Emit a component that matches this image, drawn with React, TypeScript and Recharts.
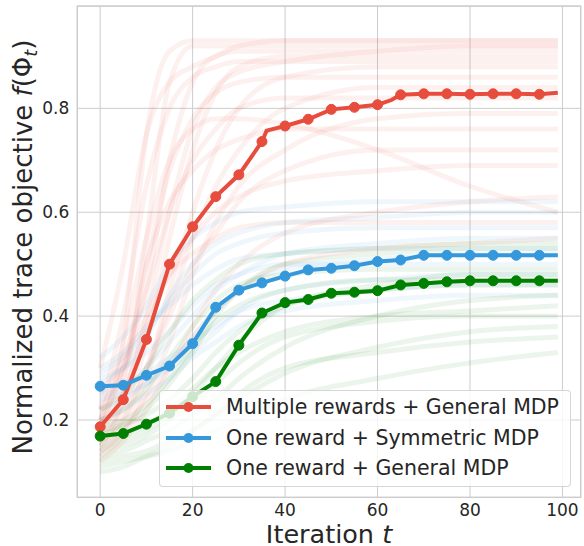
import {
  LineChart,
  Line,
  XAxis,
  YAxis,
  CartesianGrid,
  Legend,
  Label,
  ReferenceArea,
} from 'recharts'

const FONT = '"DejaVu Sans", sans-serif'
const TEXT = '#262626'
const GRID = '#cccccc'

const RED = '#e74c3c'
const BLUE = '#3498db'
const GREEN = '#008000'

// mean curves (markers every 5 iterations)
const redT = [0, 5, 10, 15, 20, 25, 30, 35, 36, 40, 45, 50, 55, 60, 63, 65, 70, 75, 80, 85, 90, 95, 99]
const redV = [0.187, 0.239, 0.355, 0.5, 0.572, 0.63, 0.672, 0.736, 0.757, 0.766, 0.779, 0.798, 0.802, 0.807, 0.816, 0.826, 0.828, 0.828, 0.827, 0.828, 0.828, 0.827, 0.83]

const blueT = [0, 5, 10, 15, 20, 25, 30, 35, 40, 45, 50, 55, 60, 65, 70, 75, 80, 85, 90, 95, 99]
const blueV = [0.265, 0.267, 0.286, 0.304, 0.347, 0.417, 0.45, 0.464, 0.477, 0.489, 0.492, 0.497, 0.505, 0.508, 0.517, 0.517, 0.517, 0.517, 0.517, 0.517, 0.517]

const greenT = [0, 5, 10, 15, 20, 25, 30, 35, 40, 45, 50, 55, 60, 65, 70, 75, 80, 85, 90, 95, 99]
const greenV = [0.169, 0.174, 0.192, 0.213, 0.245, 0.274, 0.344, 0.406, 0.426, 0.432, 0.444, 0.446, 0.449, 0.46, 0.463, 0.466, 0.468, 0.468, 0.468, 0.468, 0.468]

// individual runs, faint in the background
const traceT = [0, 5, 10, 15, 20, 25, 30, 40, 60, 80, 99]

const redTraces = [
  [0.18, 0.35, 0.75, 0.91, 0.93, 0.93, 0.93, 0.93, 0.93, 0.93, 0.93],
  [0.15, 0.25, 0.55, 0.85, 0.92, 0.92, 0.92, 0.92, 0.92, 0.92, 0.92],
  [0.2, 0.3, 0.45, 0.7, 0.85, 0.9, 0.91, 0.91, 0.91, 0.91, 0.91],
  [0.17, 0.22, 0.35, 0.55, 0.72, 0.83, 0.88, 0.9, 0.9, 0.9, 0.9],
  [0.22, 0.4, 0.65, 0.8, 0.86, 0.88, 0.89, 0.89, 0.89, 0.89, 0.89],
  [0.14, 0.18, 0.28, 0.45, 0.6, 0.72, 0.8, 0.86, 0.88, 0.88, 0.88],
  [0.19, 0.28, 0.5, 0.68, 0.78, 0.83, 0.85, 0.86, 0.86, 0.86, 0.86],
  [0.16, 0.2, 0.3, 0.42, 0.55, 0.65, 0.72, 0.8, 0.84, 0.84, 0.84],
  [0.25, 0.32, 0.45, 0.6, 0.7, 0.76, 0.8, 0.82, 0.82, 0.82, 0.82],
  [0.13, 0.17, 0.25, 0.35, 0.48, 0.58, 0.65, 0.72, 0.78, 0.79, 0.79],
  [0.2, 0.3, 0.5, 0.62, 0.68, 0.72, 0.74, 0.76, 0.76, 0.76, 0.76],
  [0.15, 0.2, 0.3, 0.4, 0.5, 0.56, 0.62, 0.68, 0.72, 0.72, 0.72],
  [0.18, 0.25, 0.38, 0.48, 0.55, 0.6, 0.63, 0.66, 0.68, 0.69, 0.69],
  [0.12, 0.16, 0.22, 0.3, 0.38, 0.45, 0.5, 0.56, 0.6, 0.62, 0.63],
  [0.22, 0.3, 0.4, 0.48, 0.52, 0.55, 0.57, 0.58, 0.58, 0.58, 0.58],
  [0.14, 0.18, 0.24, 0.3, 0.36, 0.41, 0.45, 0.5, 0.53, 0.54, 0.55],
  [0.3, 0.5, 0.75, 0.85, 0.88, 0.9, 0.92, 0.93, 0.93, 0.93, 0.93],
  [0.17, 0.24, 0.4, 0.6, 0.76, 0.84, 0.87, 0.89, 0.91, 0.92, 0.92],
  [0.2, 0.35, 0.55, 0.7, 0.76, 0.78, 0.78, 0.77, 0.72, 0.65, 0.6],
]

const blueTraces = [
  [0.27, 0.3, 0.36, 0.44, 0.5, 0.54, 0.56, 0.58, 0.59, 0.6, 0.6],
  [0.25, 0.26, 0.3, 0.35, 0.4, 0.45, 0.48, 0.52, 0.54, 0.55, 0.55],
  [0.3, 0.33, 0.38, 0.42, 0.46, 0.49, 0.51, 0.52, 0.53, 0.53, 0.53],
  [0.22, 0.24, 0.27, 0.31, 0.36, 0.41, 0.45, 0.49, 0.51, 0.52, 0.52],
  [0.28, 0.3, 0.33, 0.37, 0.42, 0.46, 0.48, 0.5, 0.5, 0.5, 0.5],
  [0.24, 0.25, 0.27, 0.3, 0.33, 0.37, 0.41, 0.45, 0.47, 0.48, 0.48],
  [0.32, 0.36, 0.42, 0.5, 0.55, 0.58, 0.6, 0.61, 0.62, 0.62, 0.62],
  [0.26, 0.27, 0.29, 0.32, 0.35, 0.38, 0.41, 0.43, 0.45, 0.46, 0.46],
  [0.2, 0.22, 0.25, 0.28, 0.32, 0.35, 0.38, 0.41, 0.43, 0.44, 0.44],
  [0.29, 0.32, 0.37, 0.43, 0.48, 0.52, 0.54, 0.56, 0.57, 0.57, 0.57],
]

const greenTraces = [
  [0.17, 0.19, 0.22, 0.27, 0.33, 0.4, 0.45, 0.5, 0.52, 0.53, 0.53],
  [0.15, 0.16, 0.18, 0.21, 0.25, 0.3, 0.35, 0.42, 0.46, 0.48, 0.48],
  [0.2, 0.22, 0.26, 0.32, 0.38, 0.43, 0.46, 0.48, 0.49, 0.49, 0.49],
  [0.13, 0.14, 0.16, 0.18, 0.21, 0.24, 0.28, 0.34, 0.4, 0.43, 0.44],
  [0.18, 0.19, 0.21, 0.24, 0.28, 0.33, 0.37, 0.42, 0.45, 0.46, 0.46],
  [0.12, 0.13, 0.14, 0.16, 0.18, 0.21, 0.24, 0.29, 0.34, 0.37, 0.38],
  [0.22, 0.25, 0.3, 0.37, 0.43, 0.47, 0.5, 0.52, 0.53, 0.54, 0.54],
  [0.16, 0.17, 0.19, 0.22, 0.26, 0.3, 0.33, 0.37, 0.4, 0.41, 0.42],
  [0.1, 0.11, 0.13, 0.15, 0.18, 0.21, 0.25, 0.3, 0.33, 0.35, 0.36],
  [0.19, 0.2, 0.23, 0.28, 0.34, 0.39, 0.42, 0.45, 0.47, 0.47, 0.47],
  [0.14, 0.15, 0.17, 0.2, 0.23, 0.27, 0.31, 0.36, 0.39, 0.4, 0.4],
  [0.11, 0.12, 0.13, 0.14, 0.16, 0.18, 0.2, 0.24, 0.28, 0.31, 0.33],
]

const xTicks = [0, 20, 40, 60, 80, 100]
const yTicks = [0.2, 0.4, 0.6, 0.8]

const series = [
  { name: 'Multiple rewards + General MDP', color: RED, t: redT, v: redV },
  { name: 'One reward + Symmetric MDP', color: BLUE, t: blueT, v: blueV },
  { name: 'One reward + General MDP', color: GREEN, t: greenT, v: greenV },
]

const toRows = (ts: number[], vs: number[]) => ts.map((t, i) => ({ t, v: vs[i] }))

const traceGroups = [
  { color: RED, rows: redTraces },
  { color: BLUE, rows: blueTraces },
  { color: GREEN, rows: greenTraces },
]

function markerDot(color: string) {
  return (props: any) => {
    const { cx, cy, payload, index } = props
    if (payload.t % 5 !== 0 || payload.t > 95) return <g key={`d${index}`} />
    return <circle key={`d${index}`} cx={cx} cy={cy} r={5} fill={color} stroke={color} />
  }
}

function LegendBox() {
  return (
    <div
      style={{
        position: 'relative',
        width: 412,
        height: 97,
        boxSizing: 'border-box',
        border: '1px solid rgba(204,204,204,0.8)',
        borderRadius: 4,
        background: 'rgba(255,255,255,0.8)',
        fontFamily: FONT,
        fontSize: 20.5,
        color: TEXT,
      }}
    >
      {series.map((s, i) => (
        <div key={s.name} style={{ position: 'absolute', left: 0, top: 16 + i * 30.6 - 15, height: 30, width: 410 }}>
          <svg width={50} height={30} style={{ position: 'absolute', left: 5, top: 0 }}>
            <line x1={1} y1={15} x2={46} y2={15} stroke={s.color} strokeWidth={4} />
            <circle cx={23.5} cy={15} r={5} fill={s.color} />
          </svg>
          <span style={{ position: 'absolute', left: 66, top: 0, lineHeight: '30px', whiteSpace: 'nowrap' }}>{s.name}</span>
        </div>
      ))}
    </div>
  )
}

export default function App() {
  return (
    <div style={{ position: 'absolute', left: 0, top: 0, width: 584, height: 546, background: '#fff' }}>
      <LineChart width={584} height={546} margin={{ top: 6, right: 3.3, bottom: 0, left: 7 }}>
        <CartesianGrid stroke={GRID} strokeWidth={1} />
        <XAxis
          type="number"
          dataKey="t"
          domain={[-4.95, 103.95]}
          ticks={xTicks}
          allowDataOverflow
          axisLine={false}
          tickLine={false}
          tickMargin={1}
          height={48.7}
          tick={{ fill: TEXT, fontSize: 17, fontFamily: FONT }}
        >
          <Label
            content={() => (
              <text x={329} y={542.5} textAnchor="middle" fill={TEXT} fontSize={25.5} fontFamily={FONT}>
                Iteration <tspan fontStyle="italic">t</tspan>
              </text>
            )}
          />
        </XAxis>
        <YAxis
          type="number"
          dataKey="v"
          domain={[0.0512, 0.997]}
          ticks={yTicks}
          allowDataOverflow
          axisLine={false}
          tickLine={false}
          width={70.3}
          tickFormatter={(v: number) => v.toFixed(1)}
          tick={{ fill: TEXT, fontSize: 17, fontFamily: FONT }}
        >
          <Label
            content={() => (
              <text
                x={32}
                y={247}
                transform="rotate(-90, 32, 247)"
                textAnchor="middle"
                fill={TEXT}
                fontSize={26}
                fontFamily={FONT}
              >
                Normalized trace objective <tspan fontStyle="italic">f</tspan>(Φ
                <tspan fontStyle="italic" fontSize={18} dy={5}>t</tspan>
                <tspan dy={-5}>)</tspan>
              </text>
            )}
          />
        </YAxis>
        {traceGroups.map((g, gi) =>
          g.rows.map((vals, i) => (
            <Line
              key={`tr${gi}-${i}`}
              data={toRows(traceT, vals)}
              dataKey="v"
              type="monotone"
              stroke={g.color}
              strokeOpacity={0.08}
              strokeWidth={5}
              dot={false}
              activeDot={false}
              legendType="none"
              isAnimationActive={false}
            />
          ))
        )}
        {series.map((s) => (
          <Line
            key={s.name}
            name={s.name}
            data={toRows(s.t, s.v)}
            dataKey="v"
            type="linear"
            stroke={s.color}
            strokeWidth={4}
            dot={markerDot(s.color)}
            activeDot={false}
            isAnimationActive={false}
          />
        ))}
        <ReferenceArea x1={-4.95} x2={103.95} y1={0.0512} y2={0.997} fill="none" stroke={GRID} strokeWidth={1.25} />
        <Legend
          layout="vertical"
          align="center"
          verticalAlign="middle"
          content={() => <LegendBox />}
          wrapperStyle={{ left: 159, top: 390, width: 412, height: 97 }}
        />
      </LineChart>
    </div>
  )
}
